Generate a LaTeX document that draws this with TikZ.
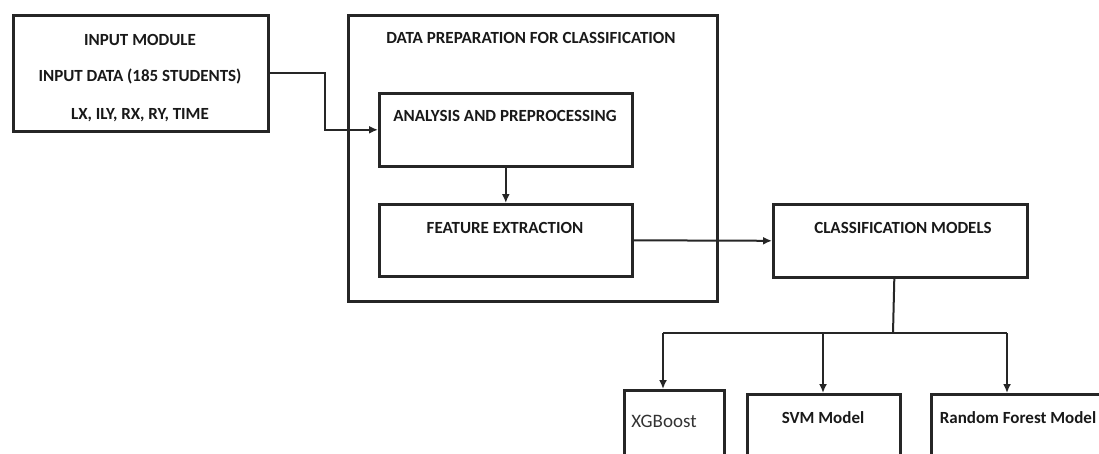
\documentclass[tikz,border=0pt]{standalone}
\usepackage{fontspec}
\setmainfont{Carlito}
\usetikzlibrary{arrows.meta,calc}
\tikzset{
  box/.style={draw=black!85, line width=2.6pt, anchor=north west, inner sep=0pt},
  lbl/.style={font=\bfseries\fontsize{17}{19}\selectfont, text=black!90, inner sep=0pt},
  conn/.style={draw=black!85, line width=2pt},
  arr/.style={conn, -{Latex[length=9pt,width=8pt]}},
}
\begin{document}
\begin{tikzpicture}[x=1pt,y=-1pt]
\useasboundingbox (0,0) rectangle (1099,453);
\fill[white] (0,0) rectangle (1099,453);
\begin{scope}
\clip (0,0) rectangle (1099,453);
% input module
\node[box, minimum width=255pt, minimum height=116pt] (inp) at (12,14) {};
\node[lbl] (inp1) at (140,40) {INPUT MODULE};
\node[lbl] (inp2) at (140,76) {INPUT DATA (185 STUDENTS)};
\node[lbl] (inp3) at (140,115) {LX, ILY, RX, RY, TIME};
% data preparation
\node[box, minimum width=369pt, minimum height=286pt] (dp) at (347,14) {};
\node[lbl] (dpt) at (531,38) {DATA PREPARATION FOR CLASSIFICATION};
\node[box, minimum width=253pt, minimum height=73pt] (ana) at (378,92) {};
\node[lbl] (anat) at (505,116) {ANALYSIS AND PREPROCESSING};
\node[box, minimum width=253pt, minimum height=72pt] (fe) at (378,203) {};
\node[lbl] (fet) at (505,228) {FEATURE EXTRACTION};
% classification
\node[box, minimum width=254pt, minimum height=73pt] (cls) at (772,203) {};
\node[lbl] (clst) at (903,228) {CLASSIFICATION MODELS};
% models
\node[box, minimum width=100pt, minimum height=80pt] (xg) at (623,389) {};
\node[font=\fontsize{19}{21}\selectfont, text=black!80, inner sep=0pt] (xgt) at (664,421) {XGBoost};
\node[box, minimum width=153pt, minimum height=80pt] (svm) at (746,393) {};
\node[lbl] (svmt) at (823,418) {SVM Model};
\node[box, minimum width=180pt, minimum height=80pt] (rf) at (930,393) {};
\node[lbl] (rft) at (1018,418) {Random Forest Model};
\end{scope}
% connectors
\draw[arr] (inp.east) -- ++(55,0) |- (ana.west);
\draw[arr] (ana.south) -- (fe.north);
\draw[arr] (fe.east) -- (cls.west);
\coordinate (br) at (893,333);
\coordinate (bxg) at (663,333);
\coordinate (bsvm) at (823,333);
\coordinate (brf) at (1007,333);
\draw[conn] ($(cls.south)+(-6,0)$) -- (br);
\draw[conn] (bxg) -- (brf);
\draw[arr] (bxg) -- (bxg |- xg.north);
\draw[arr] (bsvm) -- (bsvm |- svm.north);
\draw[arr] (brf) -- (brf |- rf.north);
\end{tikzpicture}
\end{document}
